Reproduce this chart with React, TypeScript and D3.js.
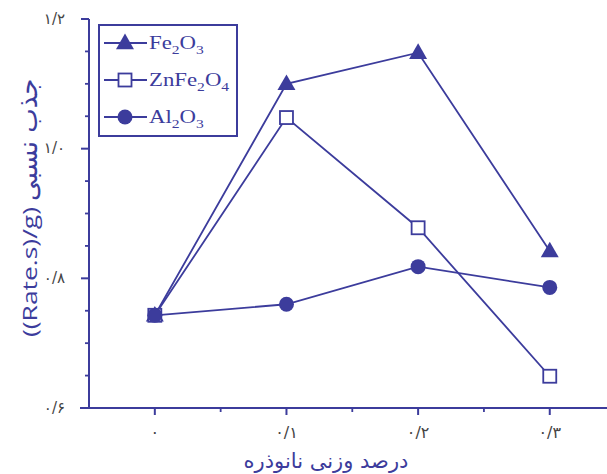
import * as d3 from "d3";
import React from "react";

// Data
const xValues = [0, 0.1, 0.2, 0.3];
const fe2o3 = [0.743, 1.1, 1.148, 0.842];
const znFe2o4 = [0.743, 1.048, 0.878, 0.649];
const al2o3 = [0.743, 0.76, 0.818, 0.786];

const yMajorTicks = [0.6, 0.8, 1.0, 1.2];
const yMinorTicks = [0.65, 0.7, 0.75, 0.85, 0.9, 0.95, 1.05, 1.1, 1.15];
const xMajorTicks = [0, 0.1, 0.2, 0.3];
const xMinorTicks = [0.05, 0.15, 0.25];

const xTitle = "درصد وزنی نانوذره";
const yTitleLatin = "((Rate.s)/g)";
const yTitleFa = "جذب نسبی";

const seriesNames = [
  { main: "Fe", sub1: "2", mid: "O", sub2: "3" },
  { main: "ZnFe", sub1: "2", mid: "O", sub2: "4" },
  { main: "Al", sub1: "2", mid: "O", sub2: "3" },
];

const color = "#3c3c9c";
const width = 607;
const height = 474;

// convert to persian digits, decimal separator as slash
const faDigits = "۰۱۲۳۴۵۶۷۸۹";
const toFa = (v: number) => {
  const s = v === 0 ? "0" : v.toFixed(1);
  return s.replace(/[0-9]/g, (d) => faDigits[+d]).replace(".", "/");
};

const Marker = ({ kind, x, y }: { kind: string; x: number; y: number }) => {
  if (kind === "triangle") {
    const tri = d3.symbol().type(d3.symbolTriangle).size(140)();
    return <path d={tri || ""} transform={`translate(${x},${y + 1})`} fill={color} />;
  }
  if (kind === "square") {
    return (
      <rect x={x - 6.5} y={y - 6.5} width={13} height={13} fill="#fff" stroke={color} strokeWidth={1.8} />
    );
  }
  return <circle cx={x} cy={y} r={7.5} fill={color} />;
};

export default function App() {
  const x = d3.scaleLinear().domain([-0.05, 0.345]).range([89, 609]);
  const y = d3.scaleLinear().domain([0.6, 1.2]).range([408, 19]);

  const line = d3
    .line<number>()
    .x((_, i) => x(xValues[i]))
    .y((d) => y(d));

  const series = [
    { values: fe2o3, kind: "triangle" },
    { values: znFe2o4, kind: "square" },
    { values: al2o3, kind: "circle" },
  ];

  const legendRows = [43, 80, 117];

  return (
    <svg
      width={width}
      height={height}
      style={{ position: "absolute", left: 0, top: 0, background: "#fff" }}
    >
      {/* axes */}
      <line x1={x(-0.05)} x2={x(-0.05)} y1={y(1.2)} y2={y(0.6)} stroke={color} strokeWidth={2} />
      <line x1={80} x2={width} y1={y(0.6)} y2={y(0.6)} stroke={color} strokeWidth={2} />
      {yMajorTicks.map((t) => (
        <g key={"ym" + t}>
          <line x1={81} x2={89} y1={y(t)} y2={y(t)} stroke={color} strokeWidth={2} />
          <text
            x={65}
            y={y(t)}
            textAnchor="end"
            dominantBaseline="middle"
            fontFamily="DejaVu Sans"
            fontSize={15}
            fill="#444"
          >
            {toFa(t)}
          </text>
        </g>
      ))}
      {yMinorTicks.map((t) => (
        <line key={"yn" + t} x1={85} x2={89} y1={y(t)} y2={y(t)} stroke={color} strokeWidth={1.8} />
      ))}
      {xMajorTicks.map((t) => (
        <g key={"xm" + t}>
          <line x1={x(t)} x2={x(t)} y1={y(0.6)} y2={y(0.6) + 7} stroke={color} strokeWidth={2} />
          <text
            x={x(t)}
            y={433}
            textAnchor="middle"
            dominantBaseline="middle"
            fontFamily="DejaVu Sans"
            fontSize={16}
            fill="#444"
          >
            {toFa(t)}
          </text>
        </g>
      ))}
      {xMinorTicks.map((t) => (
        <line key={"xn" + t} x1={x(t)} x2={x(t)} y1={y(0.6)} y2={y(0.6) + 4} stroke={color} strokeWidth={1.8} />
      ))}

      {/* axis titles */}
      <text
        x={326}
        y={462}
        textAnchor="middle"
        dominantBaseline="middle"
        fontFamily="DejaVu Sans"
        fontSize={21}
        fill={color}
      >
        {xTitle}
      </text>
      <g transform="translate(32,0) rotate(-90)">
        <text
          x={-337}
          y={0}
          textAnchor="start"
          dominantBaseline="middle"
          fontFamily="Open Sans"
          fontSize={20}
          textLength={130}
          lengthAdjust="spacingAndGlyphs"
          fill={color}
        >
          {yTitleLatin}
        </text>
        <text
          x={-201}
          y={-3}
          textAnchor="start"
          dominantBaseline="middle"
          fontFamily="DejaVu Sans"
          fontSize={26}
          fill={color}
        >
          {yTitleFa}
        </text>
      </g>

      {/* lines */}
      {series.map((s, i) => (
        <path key={"l" + i} d={line(s.values) || ""} fill="none" stroke={color} strokeWidth={1.8} />
      ))}
      {series.map((s, i) =>
        s.values.map((v, j) => <Marker key={`m${i}-${j}`} kind={s.kind} x={x(xValues[j])} y={y(v)} />)
      )}

      {/* legend */}
      <rect x={99} y={25} width={138} height={111} fill="#fff" stroke={color} strokeWidth={2} />
      {series.map((s, i) => (
        <g key={"lg" + i}>
          <line x1={104} x2={147} y1={legendRows[i]} y2={legendRows[i]} stroke={color} strokeWidth={1.8} />
          <Marker kind={s.kind} x={125} y={legendRows[i]} />
          <text
            transform={`translate(149,${legendRows[i] + 6}) scale(1.2,1)`}
            fontFamily="Liberation Serif"
            fontSize={19}
            fill={color}
          >
            {seriesNames[i].main}
            <tspan fontSize={13} dy={5}>{seriesNames[i].sub1}</tspan>
            <tspan dy={-5}>{seriesNames[i].mid}</tspan>
            <tspan fontSize={13} dy={5}>{seriesNames[i].sub2}</tspan>
          </text>
        </g>
      ))}
    </svg>
  );
}
